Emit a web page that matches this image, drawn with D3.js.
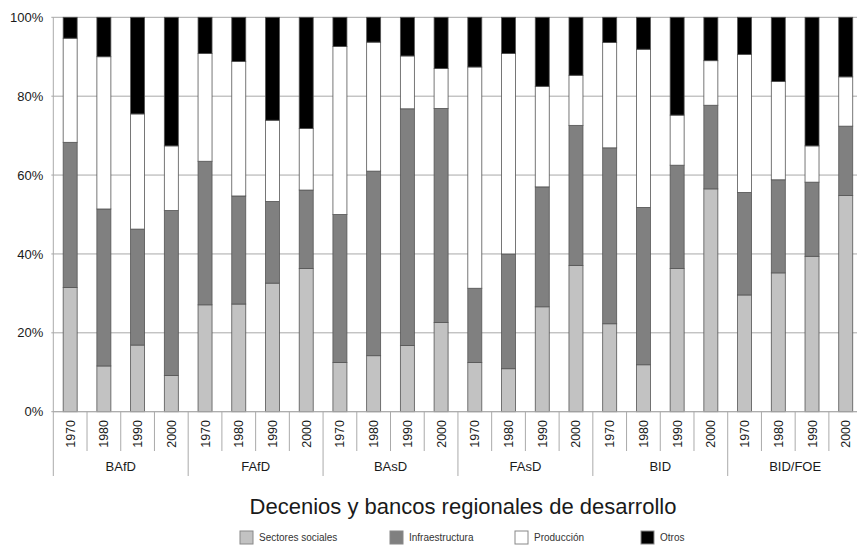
<!DOCTYPE html>
<html><head><meta charset="utf-8">
<title>Decenios y bancos regionales de desarrollo</title>
<style>
body { margin: 0; background: #fff; }
svg { display: block; font-family: "Liberation Sans", Arial, sans-serif; }
.grid line { stroke: #a8a8a8; stroke-width: 1; }
.year { font-size: 12.5px; fill: #1a1a1a; }
.group { font-size: 13px; fill: #1a1a1a; }
.sep { stroke: #aaa; stroke-width: 1; }
</style>
<script src="https://d3js.org/d3.v7.min.js"></script>
</head>
<body>
<div id="chart"></div>
<script>
// banks and decades
const banks = ["BAfD", "FAfD", "BAsD", "FAsD", "BID", "BID/FOE"];
const decades = ["1970", "1980", "1990", "2000"];
const seriesNames = ["Sectores sociales", "Infraestructura", "Producción", "Otros"];
const yTicks = [0, 20, 40, 60, 80, 100];

// share (%) per bank/decade
const sociales = [31.5, 11.6, 16.9, 9.2, 27.1, 27.3, 32.6, 36.3, 12.5, 14.2, 16.8, 22.6,
                  12.5, 10.9, 26.6, 37.1, 22.3, 11.9, 36.3, 56.5, 29.6, 35.2, 39.4, 54.8];
const infra    = [36.8, 39.8, 29.4, 41.8, 36.4, 27.4, 20.7, 19.9, 37.5, 46.8, 60.0, 54.3,
                  18.8, 29.1, 30.4, 35.5, 44.6, 39.9, 26.2, 21.2, 26.0, 23.6, 18.8, 17.6];
const produccion = [26.4, 38.6, 29.2, 16.4, 27.3, 34.1, 20.6, 15.6, 42.6, 32.7, 13.4, 10.1,
                  56.1, 50.8, 25.5, 12.7, 26.7, 40.1, 12.7, 11.3, 35.0, 24.9, 9.2, 12.5];
const otros    = [5.3, 10.0, 24.5, 32.6, 9.2, 11.2, 26.1, 28.2, 7.4, 6.3, 9.8, 13.0,
                  12.6, 9.2, 17.5, 14.7, 6.4, 8.1, 24.8, 11.0, 9.4, 16.3, 32.6, 15.1];

const colors = ["#c2c2c2", "#808080", "#ffffff", "#000000"];

const rows = [];
banks.forEach((b, bi) => decades.forEach((d, di) => {
    const i = bi * decades.length + di;
    rows.push({ key: i, bank: b, decade: d,
        "Sectores sociales": sociales[i], "Infraestructura": infra[i],
        "Producción": produccion[i], "Otros": otros[i] });
}));

const width = 857, height = 546;
const plotL = 53.3, plotR = 862.6, plotT = 17.3, plotB = 411.7;

const svg = d3.select("#chart").append("svg")
    .attr("width", width).attr("height", height);

const x = d3.scaleBand()
    .domain(rows.map(d => d.key))
    .range([plotL, plotR])
    .paddingInner(0.585).paddingOuter(0.2925);
const step = x.step();

const y = d3.scaleLinear().domain([0, 100]).range([plotB, plotT]);

// grid
svg.append("g").attr("class", "grid")
    .selectAll("line").data(yTicks).join("line")
    .attr("x1", plotL - 2).attr("x2", width)
    .attr("y1", d => y(d)).attr("y2", d => y(d));

// y labels
const yAxis = svg.append("g")
    .attr("transform", `translate(${plotL},0)`)
    .call(d3.axisLeft(y).tickValues(yTicks).tickFormat(d => d + "%").tickSize(0).tickPadding(10));
yAxis.select(".domain").remove();
yAxis.selectAll("text").attr("fill", "#1a1a1a").style("font-family", "inherit").style("font-size", "13px");

// bars
const stack = d3.stack().keys(seriesNames)(rows);
svg.append("g").selectAll("g").data(stack).join("g")
    .attr("fill", (d, i) => colors[i])
    .selectAll("rect").data(d => d).join("rect")
    .attr("x", d => x(d.data.key))
    .attr("width", x.bandwidth())
    .attr("y", d => y(d[1]))
    .attr("height", d => y(d[0]) - y(d[1]))
    .attr("stroke", "#555").attr("stroke-width", 0.8);

// axis lines
svg.append("line").attr("class", "sep")
    .attr("x1", plotL).attr("x2", plotL).attr("y1", plotT).attr("y2", 476);
svg.append("line").attr("class", "sep")
    .attr("x1", plotL).attr("x2", width).attr("y1", plotB).attr("y2", plotB);

// category separators
svg.append("g").selectAll("line").data(d3.range(1, rows.length)).join("line")
    .attr("class", "sep")
    .attr("x1", i => plotL + i * step).attr("x2", i => plotL + i * step)
    .attr("y1", plotB)
    .attr("y2", i => i % decades.length === 0 ? 476 : 451);

// year labels
svg.append("g").selectAll("text").data(rows).join("text")
    .attr("class", "year")
    .attr("transform", d => `translate(${x(d.key) + x.bandwidth() / 2 + 4.5},420) rotate(-90)`)
    .attr("text-anchor", "end")
    .text(d => d.decade);

// bank labels
svg.append("g").selectAll("text").data(banks).join("text")
    .attr("class", "group")
    .attr("x", (b, i) => plotL + (i * decades.length + decades.length / 2) * step)
    .attr("y", 471)
    .attr("text-anchor", "middle")
    .text(d => d);

// title
svg.append("text")
    .attr("x", 463).attr("y", 514)
    .attr("text-anchor", "middle")
    .attr("fill", "#1a1a1a")
    .style("font-size", "22px")
    .text("Decenios y bancos regionales de desarrollo");

// legend
const legX = [240, 390, 515, 641];
const leg = svg.append("g").selectAll("g").data(seriesNames).join("g")
    .attr("transform", (d, i) => `translate(${legX[i]},531)`);
leg.append("rect").attr("width", 13).attr("height", 13)
    .attr("fill", (d, i) => colors[i]).attr("stroke", "#888");
leg.append("text").attr("x", 19).attr("y", 10)
    .attr("fill", "#333").style("font-size", "10px")
    .text(d => d);
</script>
</body></html>
